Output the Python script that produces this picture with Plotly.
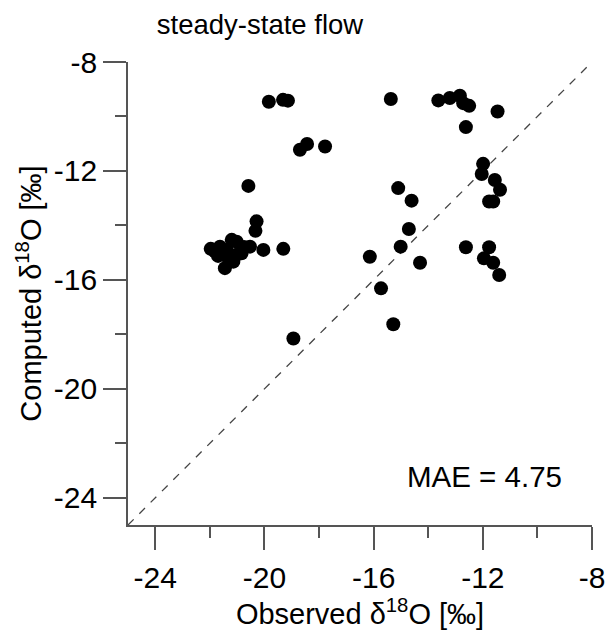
import plotly.graph_objects as go

# Observed vs computed d18O (per mil)
observed = [
    -19.84, -19.32, -19.14, -18.70, -18.44, -17.78, -20.59, -20.29, -20.33,
    -19.31, -20.04, -20.53,
    -21.97, -21.81, -21.63, -21.38, -21.20, -21.02, -20.84, -21.02, -21.14,
    -21.45, -20.75, -21.34, -21.70,
    -18.94,
    -15.37, -13.63, -13.21, -12.84, -12.72, -12.50, -11.46, -12.62,
    -11.99, -12.04, -11.56, -11.37, -11.77, -11.62,
    -12.62, -11.77, -11.96, -11.62, -11.40,
    -15.10, -14.61, -14.71, -15.01, -16.14, -14.30, -15.73, -15.28,
]
computed = [
    -9.46, -9.39, -9.42, -11.22, -11.01, -11.10, -12.55, -13.85, -14.20,
    -14.86, -14.90, -14.78,
    -14.86, -14.96, -14.78, -14.90, -14.53, -14.60, -15.02, -15.08, -15.33,
    -15.57, -14.79, -15.19, -15.12,
    -18.15,
    -9.36, -9.41, -9.32, -9.24, -9.51, -9.61, -9.82, -10.39,
    -11.74, -12.11, -12.33, -12.69, -13.12, -13.12,
    -14.80, -14.80, -15.21, -15.37, -15.82,
    -12.63, -13.09, -14.13, -14.78, -15.15, -15.37, -16.31, -17.63,
]

axis_range = [-25, -8]
major_ticks = [-24, -20, -16, -12, -8]
major_labels = ["-24", "-20", "-16", "-12", "-8"]
minor_ticks = [-22, -18, -14, -10]
mae_text = "MAE = 4.75"
title_text = "steady-state flow"

FONT = "Liberation Sans, Arial, sans-serif"
AXC = "#555555"

fig = go.Figure()
fig.add_trace(go.Scatter(
    x=axis_range, y=axis_range, mode="lines",
    line=dict(color="#444444", width=1.3, dash="8px,8px"),
    hoverinfo="skip", showlegend=False,
))
fig.add_trace(go.Scatter(
    x=observed, y=computed, mode="markers",
    marker=dict(color="black", size=14, line=dict(width=0)),
    showlegend=False, cliponaxis=False,
))

axis_common = dict(
    range=axis_range, showgrid=False, zeroline=False, automargin=False,
    showline=True, linecolor=AXC, linewidth=1.6,
    ticks="outside", ticklen=23, tickwidth=1.6, tickcolor=AXC,
    tickvals=major_ticks, ticktext=major_labels,
    tickfont=dict(family=FONT, size=30, color="black"),
    minor=dict(tickvals=minor_ticks, ticklen=11, tickwidth=1.6,
               tickcolor=AXC, ticks="outside", showgrid=False),
)

fig.update_layout(
    width=608, height=636,
    margin=dict(l=128, r=16, t=62, b=111),
    paper_bgcolor="white", plot_bgcolor="white",
    font=dict(family=FONT, color="black"),
    title=dict(text=title_text, x=260/608, xanchor="center",
               y=1 - 24/636, yanchor="middle", yref="container",
               font=dict(family=FONT, size=27.5, color="black")),
    xaxis=dict(**axis_common, ticklabelstandoff=2,
               title=dict(text="Observed δ<sup>18</sup>O [‰]",
                          font=dict(family=FONT, size=29), standoff=2)),
    yaxis=dict(**axis_common,
               title=dict(text="Computed δ<sup>18</sup>O [‰]",
                          font=dict(family=FONT, size=29), standoff=4)),
    annotations=[dict(text=mae_text, xref="paper", yref="paper",
                      x=(564-128)/464, y=(525-476)/463,
                      xanchor="right", yanchor="middle", showarrow=False,
                      font=dict(family=FONT, size=29.5, color="black"))],
)

fig.write_html("out.html",
               config={"displayModeBar": False},
               post_script="document.body.style.margin='0';"
                           "document.body.style.overflow='hidden';")
